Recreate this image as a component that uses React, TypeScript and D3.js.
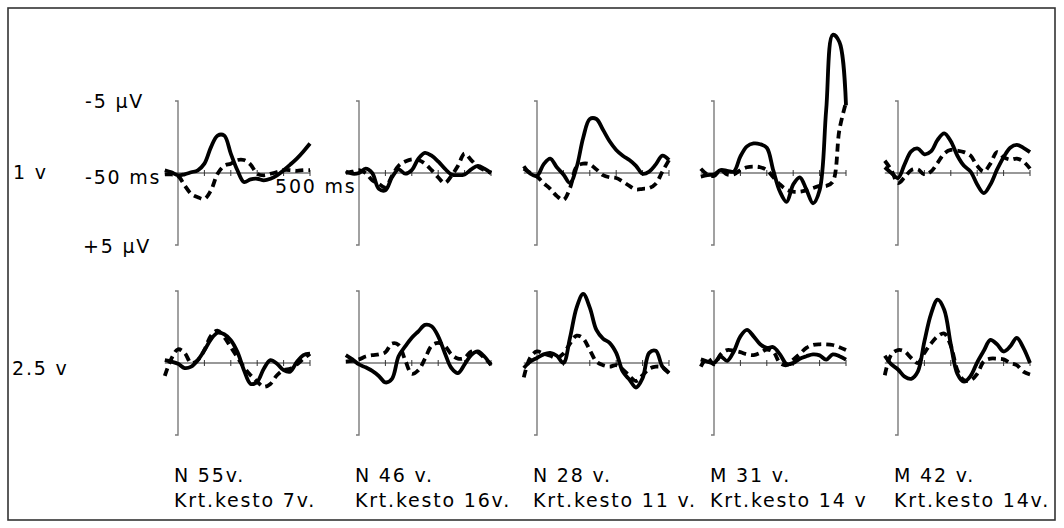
import * as d3 from 'd3';

// time points (ms) shared by every trace
const TIMES = [-50, -25, 0, 25, 50, 75, 100, 125, 150, 175, 200, 225, 250, 275, 300, 325, 350, 375, 400, 425, 450, 475, 500];
const TICKS_MS = [100, 200, 300, 400, 500];

const ROW_LABELS = ['1 v', '2.5 v'];
const SUBJECTS = ['N 55v.', 'N 46 v.', 'N 28 v.', 'M 31 v.', 'M 42 v.'];
const DURATIONS = ['Krt.kesto 7v.', 'Krt.kesto 16v.', 'Krt.kesto 11 v.', 'Krt.kesto 14 v', 'Krt.kesto 14v.'];

// row "1 v" (µV, negative drawn upward)
const n55_1v_solid = [-0.19, -0.05, 0.16, 0.09, -0.05, -0.19, -0.65, -1.8, -2.6, -2.6, -1.35, -0.19, 0.63, 0.44, 0.4, 0.51, 0.4, 0.16, -0.19, -0.58, -1.0, -1.5, -2.05];
const n55_1v_dash = [0.1, 0.1, 0.2, 0.86, 1.45, 1.68, 1.8, 1.2, 0.05, -0.5, -0.65, -0.9, -0.9, -0.58, 0.05, 0.16, 0.05, -0.07, -0.2, -0.2, -0.15, -0.2, -0.2];
const n46_1v_solid = [-0.1, 0.05, 0, -0.3, 0, 1.1, 1.2, 0.3, -0.25, 0.05, -0.2, -1.0, -1.4, -1.2, -0.8, -0.3, 0.1, 0.15, 0.1, -0.25, -0.5, -0.3, 0];
const n46_1v_dash = [0, -0.1, -0.2, 0, 0.5, 0.75, 1.0, 0.2, -0.5, -0.8, -0.95, -0.9, -0.65, -0.2, 0.3, 0.7, 0.2, -0.5, -1.35, -0.9, -0.45, -0.2, 0];
const n28_1v_solid = [-0.47, 0.05, 0.2, -0.6, -1.0, -0.4, 0.1, 0.7, -0.4, -2.45, -3.75, -3.75, -3.0, -2.2, -1.6, -1.2, -0.9, -0.5, 0.05, -0.1, -0.6, -1.2, -0.9];
const n28_1v_dash = [-0.3, 0, 0.25, 0.7, 1.1, 1.6, 1.86, 1.05, -0.45, -0.65, -0.6, -0.25, 0.15, 0.3, 0.35, 0.6, 0.9, 1.15, 1.1, 1.05, 0.75, -0.1, -0.9];
const m31_1v_solid = [0.25, 0.15, 0.1, -0.2, -0.15, -0.1, -1.15, -1.85, -2.05, -2.0, -1.75, -0.15, 1.3, 2.0, 0.8, 0.3, 1.15, 2.1, 1.2, -4.4, -9.6, -9.1, -4.7];
const m31_1v_dash = [-0.3, 0.1, 0.2, -0.2, 0.1, 0.1, -0.2, -0.4, -0.45, -0.4, -0.2, 0.3, 0.8, 1.15, 1.3, 1.3, 1.2, 1.05, 0.9, 0.9, 0.6, -3.0, -4.9];
const m42_1v_solid = [-0.4, 0, 0.35, -0.6, -1.5, -1.7, -1.3, -1.5, -2.3, -2.75, -2.2, -1.2, -0.5, -0.1, 0.8, 1.4, 0.8, -0.23, -1.1, -1.75, -1.95, -1.75, -1.45];
const m42_1v_dash = [-0.85, -0.2, 0.7, 0.3, -0.2, -0.25, 0.1, -0.1, -0.7, -1.35, -1.6, -1.55, -1.45, -1.2, -0.5, -0.1, -0.65, -1.45, -1.1, -0.93, -1.0, -0.8, -0.3];

// row "2.5 v"
const n55_25v_solid = [-0.2, -0.1, 0.05, 0.35, 0.25, -0.2, -0.88, -1.65, -2.1, -2.0, -1.58, -0.77, 0.5, 1.45, 1.3, 0.4, -0.2, 0.05, 0.5, 0.6, -0.07, -0.55, -0.65];
const n55_25v_dash = [0.9, -0.3, -0.95, -0.7, 0.0, -0.2, -0.9, -1.9, -2.25, -1.8, -1.1, -0.4, 0.3, 0.85, 1.3, 1.65, 1.45, 0.85, 0.5, 0.4, 0.1, -0.3, -0.65];
const n46_25v_solid = [-0.55, -0.25, 0.1, 0.3, 0.55, 0.9, 1.35, 1.1, -0.47, -1.15, -1.75, -2.2, -2.65, -2.55, -1.85, -0.7, 0.35, 0.7, 0.1, -0.55, -0.8, -0.45, 0.15];
const n46_25v_dash = [-0.1, -0.15, -0.25, -0.45, -0.55, -0.6, -0.75, -1.35, -1.25, -0.2, 0.75, 0.5, -0.3, -1.2, -1.4, -1.2, -0.6, -0.3, -0.35, -0.8, -0.75, -0.35, 0.1];
const n28_25v_solid = [0.35, -0.1, -0.35, -0.6, -0.7, -0.5, 0.0, -1.75, -3.85, -4.8, -3.85, -2.3, -1.7, -1.4, -0.7, 0.6, 1.15, 1.7, 1.05, -0.7, -0.85, 0.25, 0.7];
const n28_25v_dash = [1.0, -0.4, -0.8, -0.65, -0.5, -0.35, -0.65, -1.35, -1.9, -1.7, -0.9, -0.1, 0.15, 0.25, 0.15, 0.45, 0.9, 1.25, 0.85, 0.4, 0.25, 0.3, 0.7];
const m31_25v_solid = [-0.25, -0.1, 0.0, -0.45, -0.15, -0.8, -1.85, -2.3, -1.85, -1.3, -1.05, -1.1, -0.6, 0.07, 0.0, -0.3, -0.47, -0.6, -0.53, -0.23, -0.6, -0.47, -0.23];
const m31_25v_dash = [0.25, -0.35, 0.1, -0.6, -0.9, -0.85, -0.75, -0.6, -0.55, -0.7, -0.93, -0.77, 0.0, 0.15, -0.23, -0.63, -1.05, -1.25, -1.3, -1.3, -1.25, -1.1, -0.9];
const m42_25v_solid = [-0.5, 0.1, 0.45, 0.95, 1.1, 0.6, -1.5, -3.4, -4.4, -3.7, -1.3, 0.75, 1.3, 0.9, -0.05, -0.85, -1.6, -1.3, -0.8, -1.15, -1.75, -1.05, 0.0];
const m42_25v_dash = [0.85, -0.6, -0.9, -0.8, -0.35, 0.0, -0.7, -1.35, -1.85, -2.05, -1.2, 0.5, 1.2, 1.2, 0.75, -0.1, -0.3, -0.3, -0.25, 0.0, 0.15, 0.6, 0.8];

const ROW1 = [
  [n55_1v_solid, n55_1v_dash],
  [n46_1v_solid, n46_1v_dash],
  [n28_1v_solid, n28_1v_dash],
  [m31_1v_solid, m31_1v_dash],
  [m42_1v_solid, m42_1v_dash],
];
const ROW2 = [
  [n55_25v_solid, n55_25v_dash],
  [n46_25v_solid, n46_25v_dash],
  [n28_25v_solid, n28_25v_dash],
  [m31_25v_solid, m31_25v_dash],
  [m42_25v_solid, m42_25v_dash],
];

// layout
const W = 1064;
const H = 528;
const COL_X = [178, 359, 537, 714, 898];
const ROW_ZERO = [173, 363];
const HALF = 72; // px for 5 µV
const SPAN = 132; // px for 500 ms
const FONT = { fontFamily: '"DejaVu Sans", Verdana, sans-serif', fontSize: 19, letterSpacing: 1.8 };

function Panel({ cx, zero, series }: { cx: number; zero: number; series: number[][] }) {
  const x = d3.scaleLinear().domain([0, 500]).range([cx, cx + SPAN]);
  const y = d3.scaleLinear().domain([-5, 5]).range([zero - HALF, zero + HALF]);
  const line = d3
    .line<number>()
    .x((_, i) => x(TIMES[i]))
    .y((d) => y(d))
    .curve(d3.curveCatmullRom.alpha(0.5));

  return (
    <g>
      {/* vertical µV axis */}
      <path
        d={`M${x(0) - 3},${y(-5)}H${x(0)}V${y(5)}H${x(0) - 3}`}
        fill="none"
        stroke="#7a7a7a"
        strokeWidth={1.4}
      />
      {/* time axis */}
      <line x1={x(-50)} x2={x(500)} y1={y(0)} y2={y(0)} stroke="#333" strokeWidth={1.1} />
      {TICKS_MS.map((t) => (
        <line key={t} x1={x(t)} x2={x(t)} y1={y(0) - 3} y2={y(0) + 3} stroke="#333" strokeWidth={1} />
      ))}
      <path d={line(series[1]) ?? ''} fill="none" stroke="#000" strokeWidth={3.8} strokeDasharray="8,5" />
      <path d={line(series[0]) ?? ''} fill="none" stroke="#000" strokeWidth={3.8} strokeLinejoin="round" />
    </g>
  );
}

export default function App() {
  return (
    <svg
      width={W}
      height={H}
      style={{ position: 'absolute', left: 0, top: 0, background: '#fff' }}
    >
      <rect x={8} y={8} width={1047} height={512} fill="#fff" stroke="#333" strokeWidth={1.6} />

      {ROW1.map((s, i) => (
        <Panel key={'r1' + i} cx={COL_X[i]} zero={ROW_ZERO[0]} series={s} />
      ))}
      {ROW2.map((s, i) => (
        <Panel key={'r2' + i} cx={COL_X[i]} zero={ROW_ZERO[1]} series={s} />
      ))}

      <g style={FONT} fill="#000">
        <text x={85} y={108}>-5 µV</text>
        <text x={83} y={253}>+5 µV</text>
        <text x={85} y={184}>-50 ms</text>
        <text x={275} y={193}>500 ms</text>
        <text x={13} y={179}>{ROW_LABELS[0]}</text>
        <text x={12} y={375}>{ROW_LABELS[1]}</text>
        {SUBJECTS.map((s, i) => (
          <text key={s} x={COL_X[i] - 4} y={482}>{s}</text>
        ))}
        {DURATIONS.map((s, i) => (
          <text key={s} x={COL_X[i] - 4} y={507}>{s}</text>
        ))}
      </g>
    </svg>
  );
}
